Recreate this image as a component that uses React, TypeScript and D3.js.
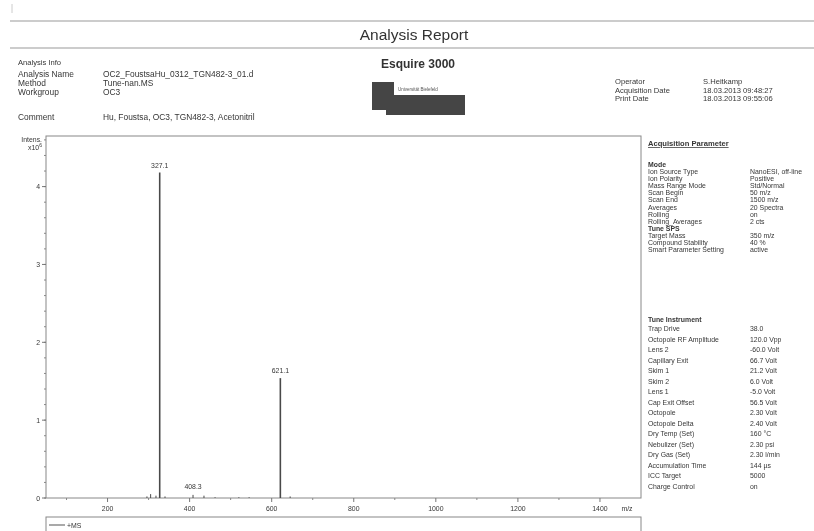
import React from "react";
import * as d3 from "d3";

// ---- data ----
const peakMz = [296, 305, 318, 327.1, 340, 408.3, 435, 462, 520, 545, 621.1, 645];
const peakIntensity = [0.02, 0.05, 0.03, 4.18, 0.02, 0.04, 0.03, 0.01, 0.01, 0.01, 1.54, 0.02];
const labeledPeaks = ["327.1", "408.3", "621.1"];
const xTicks = [200, 400, 600, 800, 1000, 1200, 1400];
const xMinorTicks = [100, 300, 500, 700, 900, 1100, 1300];
const yTicks = [0, 1, 2, 3, 4];
const yMinorTicks = d3.range(0, 4.61, 0.2);

const infoLabels = ["Analysis Name", "Method", "Workgroup"];
const infoValues = ["OC2_FoustsaHu_0312_TGN482-3_01.d", "Tune-nan.MS", "OC3"];
const commentValue = "Hu, Foustsa, OC3, TGN482-3, Acetonitril";
const opLabels = ["Operator", "Acquisition Date", "Print Date"];
const opValues = ["S.Heitkamp", "18.03.2013 09:48:27", "18.03.2013 09:55:06"];
const modeLabels = ["Ion Source Type", "Ion Polarity", "Mass Range Mode", "Scan Begin", "Scan End", "Averages", "Rolling", "Rolling_Averages"];
const modeValues = ["NanoESI, off-line", "Positive", "Std/Normal", "50 m/z", "1500 m/z", "20 Spectra", "on", "2 cts"];
const spsLabels = ["Target Mass", "Compound Stability", "Smart Parameter Setting"];
const spsValues = ["350 m/z", "40 %", "active"];
const instLabels = ["Trap Drive", "Octopole RF Amplitude", "Lens 2", "Capillary Exit", "Skim 1", "Skim 2", "Lens 1", "Cap Exit Offset", "Octopole", "Octopole Delta", "Dry Temp (Set)", "Nebulizer (Set)", "Dry Gas (Set)", "Accumulation Time", "ICC Target", "Charge Control"];
const instValues = ["38.0", "120.0 Vpp", "-60.0 Volt", "66.7 Volt", "21.2 Volt", "6.0 Volt", "-5.0 Volt", "56.5 Volt", "2.30 Volt", "2.40 Volt", "160 °C", "2.30 psi", "2.30 l/min", "144 µs", "5000", "on"];

const FONT = "'Liberation Sans', Arial, sans-serif";
const TXT = "#363636";

export default function App() {
  const x = d3.scaleLinear().domain([50, 1500]).range([46, 641]);
  const y = d3.scaleLinear().domain([0, 4.65]).range([498, 136]);
  const peaks = peakMz.map((m, i) => ({ mz: m, v: peakIntensity[i] }));

  const small = { fontFamily: FONT, fontSize: 7.6, fill: TXT } as const;
  const mid = { fontFamily: FONT, fontSize: 8.4, fill: TXT } as const;
  const tiny = { fontFamily: FONT, fontSize: 6.9, fill: TXT } as const;

  return (
    <svg width={814} height={531} style={{ position: "absolute", left: 0, top: 0, background: "#fff" }}>
      <defs>
        <filter id="scan" x="-5%" y="-5%" width="110%" height="110%">
          <feGaussianBlur stdDeviation="0.35" />
        </filter>
      </defs>
      <g filter="url(#scan)">
        {/* header */}
        <line x1={12} x2={12} y1={4} y2={13} stroke="#ccc" />
        <line x1={10} x2={814} y1={21} y2={21} stroke="#999" strokeWidth={1.2} />
        <line x1={10} x2={814} y1={48} y2={48} stroke="#999" strokeWidth={1.2} />
        <text x={414} y={39.5} textAnchor="middle" style={{ fontFamily: FONT, fontSize: 15.5, fill: "#333" }}>Analysis Report</text>

        <text x={18} y={65} style={small}>Analysis Info</text>
        {infoLabels.map((l, i) => (
          <g key={l}>
            <text x={18} y={77 + i * 9} style={mid}>{l}</text>
            <text x={103} y={77 + i * 9} style={mid}>{infoValues[i]}</text>
          </g>
        ))}
        <text x={18} y={120} style={mid}>Comment</text>
        <text x={103} y={120} style={mid}>{commentValue}</text>

        <text x={418} y={68} textAnchor="middle" style={{ fontFamily: FONT, fontSize: 12, fontWeight: "bold", fill: "#333" }}>Esquire 3000</text>
        <rect x={372} y={82} width={22} height={28} fill="#444" />
        <rect x={386} y={95} width={79} height={20} fill="#444" />
        <text x={398} y={91} style={{ fontFamily: FONT, fontSize: 4.5, fill: "#555" }}>Universität Bielefeld</text>

        {opLabels.map((l, i) => (
          <g key={l}>
            <text x={615} y={84 + i * 8.5} style={small}>{l}</text>
            <text x={703} y={84 + i * 8.5} style={small}>{opValues[i]}</text>
          </g>
        ))}

        {/* plot frame */}
        <rect x={46} y={136} width={595} height={362} fill="none" stroke="#888" strokeWidth={1} />
        <text x={42} y={142} textAnchor="end" style={tiny}>Intens.</text>
        <text x={42} y={150} textAnchor="end" style={tiny}>x10<tspan dy={-3} fontSize={5}>6</tspan></text>

        {/* y ticks */}
        {yMinorTicks.map((t) => (
          <line key={"ym" + t} x1={44} x2={46} y1={y(t)} y2={y(t)} stroke="#888" />
        ))}
        {yTicks.map((t) => (
          <g key={"y" + t}>
            <line x1={42} x2={46} y1={y(t)} y2={y(t)} stroke="#777" />
            <text x={40} y={y(t) + 2.5} textAnchor="end" style={tiny}>{t}</text>
          </g>
        ))}

        {/* x ticks */}
        {xMinorTicks.map((t) => (
          <line key={"xm" + t} x1={x(t)} x2={x(t)} y1={498} y2={500} stroke="#888" />
        ))}
        {xTicks.map((t) => (
          <g key={"x" + t}>
            <line x1={x(t)} x2={x(t)} y1={498} y2={502} stroke="#777" />
            <text x={x(t)} y={511} textAnchor="middle" style={tiny}>{t}</text>
          </g>
        ))}
        <text x={627} y={511} textAnchor="middle" style={tiny}>m/z</text>

        {/* peaks */}
        {peaks.map((p) => (
          <line key={p.mz} x1={x(p.mz)} x2={x(p.mz)} y1={y(0)} y2={y(p.v)} stroke="#4a4a4a" strokeWidth={p.v > 1 ? 1.6 : 1} />
        ))}
        {peaks
          .filter((p) => labeledPeaks.includes(String(p.mz)))
          .map((p) => (
            <text key={"l" + p.mz} x={x(p.mz)} y={p.v > 1 ? y(p.v) - 5 : y(p.v) - 6} textAnchor="middle" style={tiny}>{String(p.mz)}</text>
          ))}

        {/* legend */}
        <rect x={46} y={517} width={595} height={30} fill="none" stroke="#888" />
        <line x1={49} x2={65} y1={525} y2={525} stroke="#555" />
        <text x={67} y={527.5} style={tiny}>+MS</text>

        {/* acquisition parameter panel */}
        <text x={648} y={146} style={{ ...small, fontWeight: "bold" }} textDecoration="underline">Acquisition Parameter</text>
        <text x={648} y={167} style={{ ...tiny, fontWeight: "bold" }}>Mode</text>
        {modeLabels.map((l, i) => (
          <g key={l}>
            <text x={648} y={174 + i * 7.1} style={tiny}>{l}</text>
            <text x={750} y={174 + i * 7.1} style={tiny}>{modeValues[i]}</text>
          </g>
        ))}
        <text x={648} y={231} style={{ ...tiny, fontWeight: "bold" }}>Tune SPS</text>
        {spsLabels.map((l, i) => (
          <g key={l}>
            <text x={648} y={238 + i * 7.1} style={tiny}>{l}</text>
            <text x={750} y={238 + i * 7.1} style={tiny}>{spsValues[i]}</text>
          </g>
        ))}
        <text x={648} y={322} style={{ ...tiny, fontWeight: "bold" }}>Tune Instrument</text>
        {instLabels.map((l, i) => (
          <g key={l}>
            <text x={648} y={331 + i * 10.5} style={tiny}>{l}</text>
            <text x={750} y={331 + i * 10.5} style={tiny}>{instValues[i]}</text>
          </g>
        ))}
      </g>
    </svg>
  );
}
